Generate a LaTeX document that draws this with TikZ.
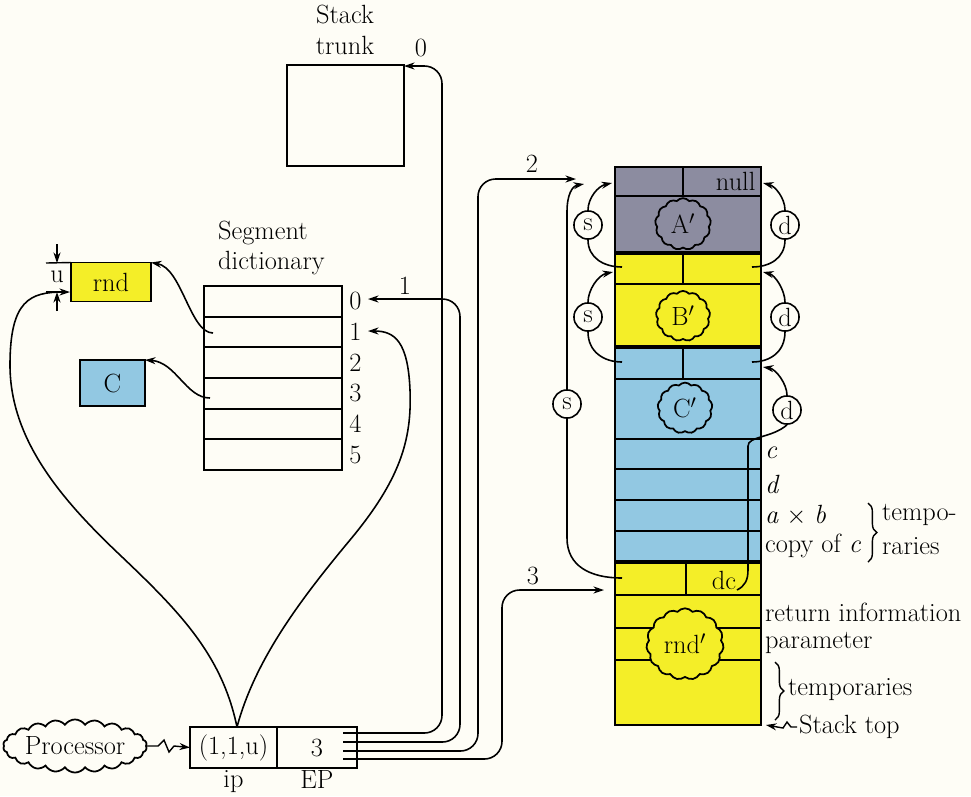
\documentclass[tikz,border=0pt]{standalone}
\usetikzlibrary{arrows.meta,shapes.symbols,decorations.pathreplacing,calc}

\definecolor{paper}{RGB}{254,253,246}
\definecolor{framegray}{RGB}{140,140,160}
\definecolor{frameyellow}{RGB}{244,238,40}
\definecolor{frameblue}{RGB}{146,200,226}

\begin{document}
\begin{tikzpicture}[x=0.02cm, y=-0.02cm, font=\fontsize{15}{17.5}\selectfont,
  >={Stealth[length=6pt,width=4pt]},
  box/.style={draw, line width=1.1pt, inner sep=0pt, outer sep=0pt},
  segrow/.style={box, minimum width=2.76cm, minimum height=0.614cm},
  link/.style={->, line width=0.9pt},
  tag/.style={draw, circle, line width=0.9pt, minimum size=16pt, inner sep=0pt, fill=paper},
  blob/.style={cloud, draw, line width=1pt, cloud puffs=13, cloud puff arc=100, aspect=1.1,
    inner sep=3.5pt},
  side/.style={anchor=west, inner sep=1pt}]

\fill[paper] (0,0) rectangle (971,796);
\useasboundingbox (0,0) rectangle (971,796);

% stack trunk
\draw[line width=1.1pt] (287,65) rectangle (404,166);
\coordinate (trunk) at (404,66);
\node[align=center] (trunklbl) at (345,30) {Stack\\trunk};

% segment dictionary
\node[align=left, anchor=west] (seglbl) at (212,248) {Segment\\dictionary};
\foreach \i in {0,...,5} {
  \node[segrow] (sd\i) at (273,301.3+30.7*\i) {};
  \node[anchor=west, inner sep=4pt] (sdn\i) at (sd\i.east) {\i};
}

% code segments
\node[box, fill=frameyellow, minimum width=1.6cm, minimum height=0.78cm] (rnd) at (111,282) {rnd};
\node[box, fill=frameblue, minimum width=1.3cm, minimum height=0.92cm] (C) at (112.5,383) {C};
\draw[line width=0.8pt] (46,263) -- (rnd.north west);
\draw[line width=0.8pt] (46,292) -- (62,292);
\draw[->, line width=0.8pt] (57,244) -- (57,263);
\draw[->, line width=0.8pt] (57,311) -- (57,292);
\node[inner sep=0pt] (ulbl) at (57,277) {u};

\draw[link] (213,333) .. controls (190,333) and (182,268) .. (rnd.north east);
\draw[link] (210,398) .. controls (186,398) and (176,362) .. (C.north east);

% processor and registers
\node[box, minimum width=1.74cm, minimum height=0.82cm] (ip) at (233.5,747.5) {(1,1,u)};
\node[box, minimum width=1.6cm, minimum height=0.82cm, anchor=west] (ep) at (ip.east) {3};
\node[anchor=north, inner sep=1.5pt] (iplbl) at (ip.south) {ip};
\node[anchor=north, inner sep=1.5pt] (eplbl) at (ep.south) {EP};
\node[blob, cloud puffs=22, cloud puff arc=110, aspect=3.3, inner sep=0pt] (proc) at (75,746) {Processor};
\draw[->, line width=0.8pt] (proc.east) -- (158,746) -- (164,740) -- (169,752) -- (174,746) -- (ip.west);

\coordinate (ipTop) at (237,727);
\draw[link] (ipTop) .. controls (222,655) and (180,612) .. (120,555)
  .. controls (62,500) and (10,440) .. (10,365)
  .. controls (10,300) and (30,292) .. (70,292);
\draw[link] (ipTop) .. controls (255,660) and (300,600) .. (350,540)
  .. controls (400,480) and (412,440) .. (410,390)
  .. controls (408,342) and (395,331) .. (368,331);

% EP lines
\foreach \yy [count=\k] in {733,742,751,759} {
  \coordinate (ep\k) at (343,\yy);
  \draw[line width=0.8pt] (ep\k) -- (357,\yy);
}
\coordinate (sdin0) at (368,299);
\coordinate (frameA) at (576,179);
\coordinate (frameD) at (604,590);
\draw[link, rounded corners=10pt] (ep1) -| (442,66) -- (trunk);
\draw[link, rounded corners=10pt] (ep2) -| (460,299) -- (sdin0);
\draw[link, rounded corners=10pt] (ep3) -| (478,179) -- (frameA);
\draw[link, rounded corners=10pt] (ep4) -| (502,590) -- (frameD);
\node (n0) at (421,48) {0};
\node (n1) at (405,286) {1};
\node (n2) at (532,164) {2};
\node (n3) at (533,576) {3};

% stack frames
\fill[framegray] (615,167) rectangle (761,253);
\fill[frameyellow] (615,253) rectangle (761,347);
\fill[frameblue] (615,347) rectangle (761,562);
\fill[frameyellow] (615,562) rectangle (761,725);
\foreach \yy in {196,284,379,439,469,500,531,595,628,660}
  \draw[line width=1.1pt] (615,\yy) -- (761,\yy);
\foreach \yy in {253,347,562}
  \draw[line width=1.8pt] (615,\yy) -- (761,\yy);
\draw[line width=1.1pt] (683,167) -- (683,196) (683,253) -- (683,284)
  (683,347) -- (683,379) (686,562) -- (686,595);
\draw[line width=1.3pt] (615,167) rectangle (761,725);
\node[anchor=east, inner sep=3pt] (nulllbl) at (761,181) {null};
\node[anchor=east, inner sep=2pt] (dclbl) at (740,580) {dc};

\node[blob, fill=framegray] (Aq) at (683,224) {A$'$};
\node[blob, fill=frameyellow] (Bq) at (683,316) {B$'$};
\node[blob, fill=frameblue] (Cq) at (685,408) {C$'$};
\node[blob, fill=frameyellow, cloud puffs=15, inner sep=2.5pt] (rndq) at (685,644) {rnd$'$};

% static and dynamic links
\node[tag] (sA) at (588,225) {s};
\node[tag] (sB) at (588,317) {s};
\node[tag] (sL) at (567,404) {s};
\node[tag] (dA) at (785,225) {d};
\node[tag] (dB) at (785,317) {d};
\node[tag] (dC) at (787,410) {d};

\draw[line width=0.9pt] (622,267) .. controls (604,267) and (588,258) .. (sA.south);
\draw[link] (sA.north) .. controls (588,198) and (598,186) .. (612,183);
\draw[line width=0.9pt] (622,362) .. controls (604,362) and (588,352) .. (sB.south);
\draw[link] (sB.north) .. controls (588,290) and (598,275) .. (613,272);
\draw[line width=0.9pt] (752,267) .. controls (770,267) and (785,258) .. (dA.south);
\draw[link] (dA.north) .. controls (785,198) and (775,186) .. (763,183);
\draw[line width=0.9pt] (752,362) .. controls (770,362) and (785,352) .. (dB.south);
\draw[link] (dB.north) .. controls (785,290) and (775,275) .. (763,272);
\draw[line width=0.9pt] (737,590) .. controls (745,586) and (748,580) .. (748,570)
  -- (748,446) .. controls (748,436) and (772,438) .. (dC.south);
\draw[link] (dC.north) .. controls (787,384) and (776,369) .. (763,367);
\draw[line width=0.9pt] (622,578) .. controls (590,578) and (567,566) .. (567,538) -- (sL.south);
\draw[link] (sL.north) -- (567,212) .. controls (567,195) and (572,186) .. (584,184);

% labels beside the stack
\node[side] (lc) at (763,453) {\textit{c}};
\node[side] (ld) at (763,484) {\textit{d}};
\node[side] (lab) at (763,515) {\textit{a} $\times$ \textit{b}};
\node[side] (lcopy) at (763,546) {copy of \textit{c}};
\draw[decorate, decoration={brace, amplitude=5pt}, line width=0.8pt] (868,503) -- (868,562);
\node[side] (ltempo) at (880,515) {tempo-};
\node[side] (lraries) at (880,546) {raries};
\node[side] (lret) at (763,612) {return information};
\node[side] (lpar) at (763,643) {parameter};
\draw[decorate, decoration={brace, amplitude=5pt}, line width=0.8pt] (775,662) -- (775,720);
\node[side] (ltemp) at (786,690) {temporaries};
\node[side] (ltop) at (797,727) {Stack top};
\draw[->, line width=0.8pt] (ltop.west) -- ++(-6,0) -- ++(-4,-5) -- ++(-4,6) -- (766,725);

\end{tikzpicture}
\end{document}
